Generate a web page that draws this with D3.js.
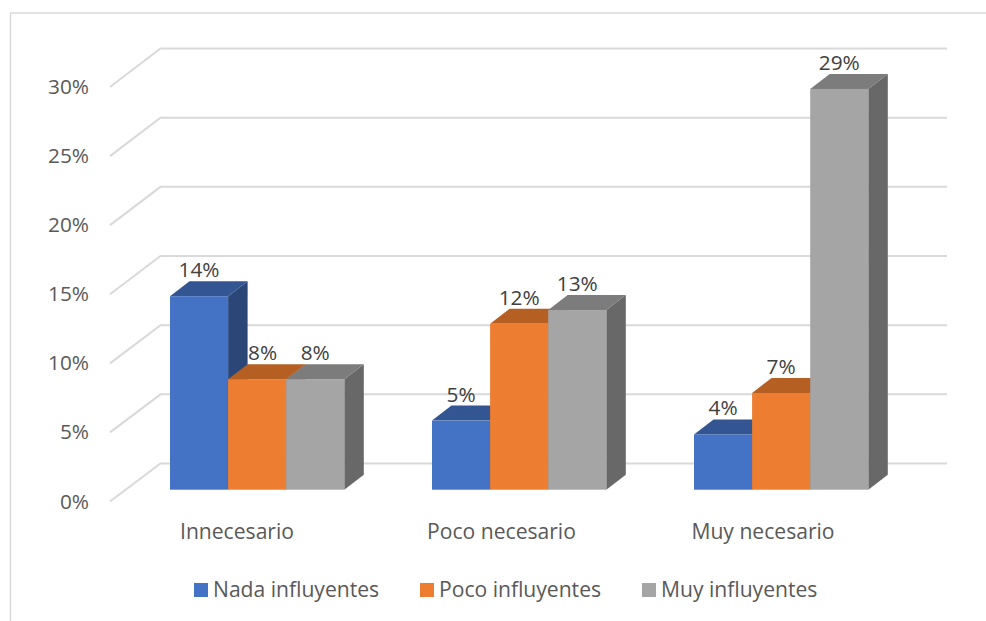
<!DOCTYPE html>
<html><head><meta charset="utf-8">
<script src="https://cdn.jsdelivr.net/npm/d3@7"></script>
<style>html,body{margin:0;padding:0;background:#fff}svg{display:block}text{font-family:"Open Sans",sans-serif}</style>
</head><body><div id="c"></div>
<script>
const categories = ["Innecesario","Poco necesario","Muy necesario"];
const seriesNames = ["Nada influyentes","Poco influyentes","Muy influyentes"];
const nada = [14,5,4];
const poco = [8,12,7];
const muy = [8,13,29];
const tickValues = [0,5,10,15,20,25,30];
const seriesValues = [nada,poco,muy];
const frontColors = ["#4472C4","#ED7D31","#A5A5A5"];
const topColors = ["#335693","#B65F22","#7C7C7C"];
const sideColors = ["#2A4778","#A04F18","#686868"];

const W=986,H=621,FS=20.8,FS2=21.1;
const svg=d3.select("#c").append("svg").attr("width",W).attr("height",H);
svg.append("path").attr("d","M10.5,621V13H986").attr("fill","none").attr("stroke","#d9d9d9").attr("stroke-width",1.5);

const y=d3.scaleLinear().domain([0,30]).range([489.7,75.1]);
const yAxisFront=d3.scaleLinear().domain([0,30]).range([501.5,87]);
const yWall=d3.scaleLinear().domain([0,30]).range([463.5,48.5]);
const wallX0=110,wallX1=160.5,wallEnd=947;
const groupX=d3.scalePoint().domain(categories).range([170,694]);
const barW=58.1, depthX=19.5, depthY=15;

const grid=svg.append("g").attr("fill","none").attr("stroke","#d9d9d9").attr("stroke-width",2);
tickValues.forEach(t=>{
  grid.append("path").attr("d",`M${wallX0},${yAxisFront(t)}L${wallX1},${yWall(t)}H${wallEnd}`);
});
svg.append("g").selectAll("text").data(tickValues).join("text")
  .attr("x",89).attr("y",t=>yAxisFront(t)+7).attr("text-anchor","end")
  .attr("font-size",FS).attr("fill","#595959").text(t=>t+"%");

categories.forEach((cat,ci)=>{
  const gx=groupX(cat);
  seriesValues.forEach((vals,si)=>{
    const v=vals[ci], x0=gx+si*barW, x1=x0+barW, yt=y(v), yb=y(0);
    const g=svg.append("g");
    g.append("path").attr("fill",sideColors[si]).attr("d",`M${x1},${yt}L${x1+depthX},${yt-depthY}V${yb-depthY}L${x1},${yb}Z`);
    g.append("path").attr("fill",topColors[si]).attr("d",`M${x0},${yt}L${x0+depthX},${yt-depthY}H${x1+depthX}L${x1},${yt}Z`);
    g.append("rect").attr("x",x0).attr("y",yt).attr("width",barW).attr("height",yb-yt).attr("fill",frontColors[si]);
  });
});
categories.forEach((cat,ci)=>{
  const gx=groupX(cat);
  seriesValues.forEach((vals,si)=>{
    const v=vals[ci];
    // the label over the short orange bar is pushed clear of the taller blue bar's side
    const nudge=(ci===0&&si===1)?5.5:0;
    svg.append("text").attr("x",gx+si*barW+barW/2+nudge).attr("y",y(v)-depthY-4)
      .attr("text-anchor","middle").attr("font-size",FS).attr("fill","#404040").text(v+"%");
  });
});
const catCenters=[237,501.5,763];
svg.append("g").selectAll("text").data(categories).join("text")
  .attr("x",(d,i)=>catCenters[i]).attr("y",538.5).attr("text-anchor","middle")
  .attr("font-size",FS2).attr("fill","#595959").text(d=>d);
const legX=[194,420,642];
const leg=svg.append("g");
seriesNames.forEach((n,i)=>{
  leg.append("rect").attr("x",legX[i]).attr("y",583).attr("width",14).attr("height",14).attr("fill",frontColors[i]);
  leg.append("text").attr("x",legX[i]+19).attr("y",596.5).attr("font-size",FS2).attr("fill","#595959").text(n);
});
</script></body></html>
